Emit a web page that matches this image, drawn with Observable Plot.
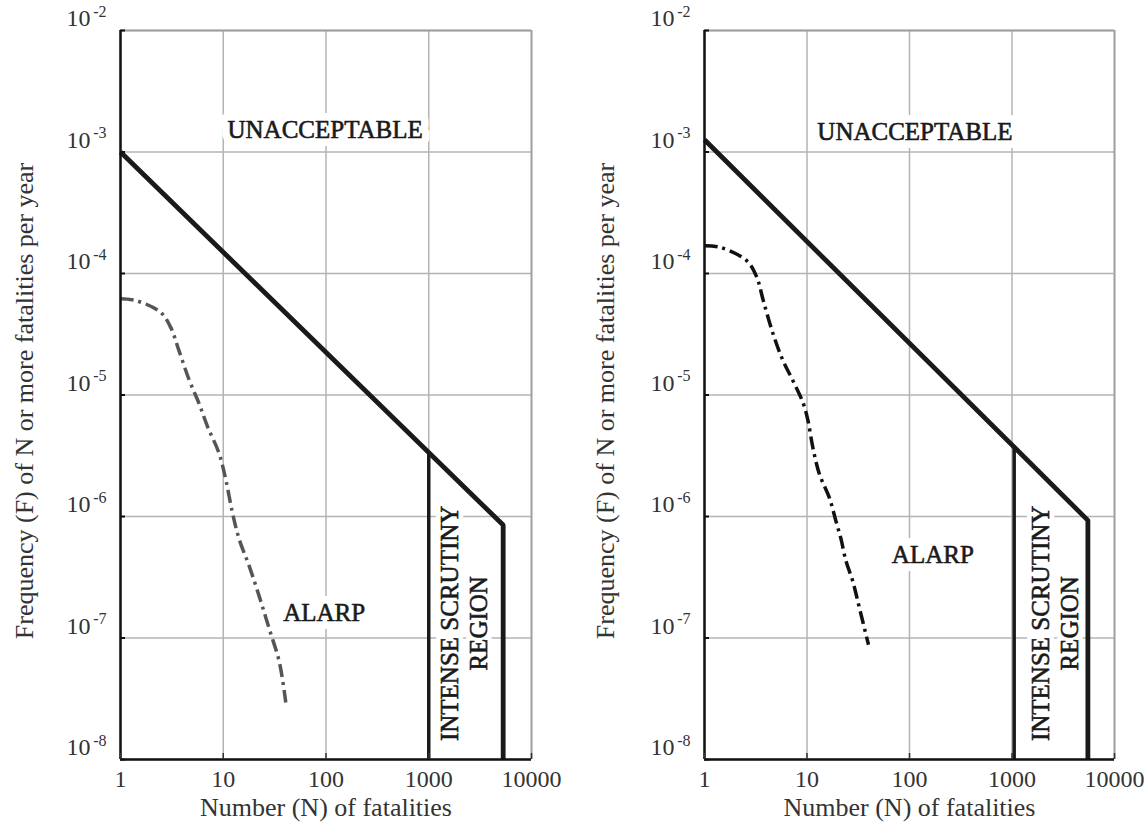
<!DOCTYPE html>
<html><head><meta charset="utf-8">
<script src="https://cdn.jsdelivr.net/npm/d3@7"></script>
<script src="https://cdn.jsdelivr.net/npm/@observablehq/plot@0.6"></script>
<style>
body{margin:0;background:#fff;}
#wrap{position:relative;width:1144px;height:822px;overflow:hidden;}
#left{position:absolute;left:0;top:0;}
#right{position:absolute;left:572px;top:0;}
</style></head><body>
<div id="wrap"><div id="left"></div><div id="right"></div></div>
<script>
// ---- shared axis content ----
const xTicks = [1, 10, 100, 1000, 10000];
const xTickLabels = ["1", "10", "100", "1000", "10000"];
const yTicks = [1e-2, 1e-3, 1e-4, 1e-5, 1e-6, 1e-7, 1e-8];
const yTickBase = "10";
const yTickExponents = ["-2", "-3", "-4", "-5", "-6", "-7", "-8"];
const xTitle = "Number (N) of fatalities";
const yTitle = "Frequency (F) of N or more fatalities per year";
const regionLabels = ["UNACCEPTABLE", "ALARP", "INTENSE SCRUTINY\nREGION"];

// ---- left panel ----
const leftCurveN = [1, 1.4, 2.45, 3.08, 3.72, 4.66, 5.82, 7.03, 9.12, 10.6, 12.3, 14.3, 17.9, 22.4, 28.2, 35.2, 40.6];
const leftCurveF = [6.2e-5, 6.0e-5, 4.8e-5, 3.6e-5, 2.3e-5, 1.33e-5, 8.5e-6, 5.5e-6, 3.3e-6, 2.0e-6, 1.07e-6, 6.5e-7, 3.9e-7, 2.2e-7, 1.17e-7, 6.3e-8, 2.95e-8];
const leftCriterionN = [1, 5300, 5300];
const leftCriterionF = [1e-3, 8.5e-7, 1e-8];
const leftScrutinyN = [1000, 1000];
const leftScrutinyF = [1e-8, 3.3e-6];
const leftLabelN = [98, 96, 2160];
const leftLabelF = [1.51e-3, 1.62e-7, 1.32e-7];

// ---- right panel ----
const rightCurveN = [1, 1.43, 2.59, 3.24, 3.75, 4.68, 5.86, 7.33, 9.14, 10.2, 11.4, 13.2, 16.6, 19.2, 21.4, 24.0, 27.9, 32.4, 39.8];
const rightCurveF = [1.69e-4, 1.64e-4, 1.27e-4, 9.3e-5, 5.96e-5, 3.16e-5, 1.9e-5, 1.3e-5, 8.65e-6, 6.2e-6, 3.7e-6, 2.24e-6, 1.41e-6, 9.1e-7, 6.6e-7, 4.3e-7, 2.95e-7, 1.78e-7, 8.8e-8];
const rightCriterionN = [1, 5500, 5500];
const rightCriterionF = [1.26e-3, 9.3e-7, 1e-8];
const rightScrutinyN = [1050, 1050];
const rightScrutinyF = [1e-8, 3.7e-6];
const rightLabelN = [113, 169, 2600];
const rightLabelF = [1.46e-3, 4.8e-7, 1.32e-7];

const zip = (N, F) => N.map((n, i) => ({n, f: F[i]}));

function panel(o) {
  const curve = zip(o.curveN, o.curveF);
  const crit = zip(o.critN, o.critF);
  const scr = zip(o.scrN, o.scrF);
  const labs = zip(o.labelN, o.labelF).map((d, i) => ({...d, t: regionLabels[i]}));
  const flat = labs.slice(0, 2);
  const rot = labs.slice(2);
  const ink = "#1a1a1a";
  const grid = "#b4b4b4";
  return Plot.plot({
    width: 572, height: 822,
    marginTop: 30, marginBottom: 63, marginLeft: o.marginLeft, marginRight: o.marginRight,
    x: {type: "log", domain: [1, 10000]},
    y: {type: "log", domain: [1e-8, 1e-2]},
    style: {fontFamily: "'Liberation Serif', 'Times New Roman', serif", background: "white", overflow: "visible"},
    marks: [
      Plot.gridX(xTicks, {stroke: grid, strokeOpacity: 1, strokeWidth: 1.5}),
      Plot.gridY(yTicks, {stroke: grid, strokeOpacity: 1, strokeWidth: 1.5}),
      Plot.ruleX([10000], {stroke: "#a0a0a0", strokeWidth: 1.8}),
      Plot.ruleY([1e-2], {stroke: "#a0a0a0", strokeWidth: 1.8}),
      // label halos
      Plot.text(flat, {x: "n", y: "f", text: "t", fontSize: 25, fill: "white", stroke: "white", strokeWidth: 16}),
      Plot.text(rot, {x: "n", y: "f", text: "t", rotate: -90, lineHeight: 1.16, fontSize: 25, fill: "white", stroke: "white", strokeWidth: 10}),
      // data
      Plot.line(curve, {x: "n", y: "f", stroke: o.curveColor, strokeWidth: 3.5, strokeDasharray: "13,5,3,5", curve: "catmull-rom", strokeLinecap: "butt"}),
      Plot.line(crit, {x: "n", y: "f", stroke: ink, strokeWidth: 4.8, strokeLinejoin: "miter", strokeLinecap: "butt"}),
      Plot.line(scr, {x: "n", y: "f", stroke: ink, strokeWidth: 3.5, strokeLinecap: "butt"}),
      // axes lines
      Plot.ruleX([1], {stroke: "#111", strokeWidth: 2.5}),
      Plot.ruleY([1e-8], {stroke: "#111", strokeWidth: 2.5}),
      Plot.axisY({ticks: yTicks, tickSize: -5, tickFormat: () => "", stroke: "#111", strokeWidth: 2, label: null}),
      Plot.axisX({ticks: xTicks, tickSize: -6, tickFormat: () => "", stroke: "#333", strokeWidth: 1.5, label: null}),
      Plot.axisX({ticks: xTicks, tickSize: 0, tickPadding: 10, tickFormat: d => xTickLabels[xTicks.indexOf(d)], fontSize: 24, fill: "#333", label: null}),
      // y tick labels 10^k
      Plot.text(yTicks, {y: d => d, frameAnchor: "left", text: () => yTickBase, textAnchor: "end", dx: -30, dy: -12, fontSize: 24, fill: "#333"}),
      Plot.text(yTicks, {y: d => d, frameAnchor: "left", text: (d, i) => yTickExponents[i], textAnchor: "end", dx: -14, dy: -19, fontSize: 16, fill: "#333"}),
      // titles
      Plot.text([xTitle], {frameAnchor: "bottom", text: d => d, textAnchor: "middle", lineAnchor: "middle", dy: 48, fontSize: 26, fill: "#333"}),
      Plot.text([yTitle], {frameAnchor: "left", text: d => d, rotate: -90, textAnchor: "middle", lineAnchor: "middle", dx: o.yTitleDx, dy: 6, fontSize: 26, fill: "#333"}),
      // region labels
      Plot.text(flat, {x: "n", y: "f", text: "t", fontSize: 25, fill: ink, stroke: ink, strokeWidth: 0.6}),
      Plot.text(rot, {x: "n", y: "f", text: "t", rotate: -90, lineHeight: 1.16, fontSize: 25, fill: ink, stroke: ink, strokeWidth: 0.6})
    ]
  });
}

document.getElementById("left").append(panel({
  curveN: leftCurveN, curveF: leftCurveF, curveColor: "#555",
  critN: leftCriterionN, critF: leftCriterionF, scrN: leftScrutinyN, scrF: leftScrutinyF,
  labelN: leftLabelN, labelF: leftLabelF, marginLeft: 120, marginRight: 41, yTitleDx: -96
}));
document.getElementById("right").append(panel({
  curveN: rightCurveN, curveF: rightCurveF, curveColor: "#111",
  critN: rightCriterionN, critF: rightCriterionF, scrN: rightScrutinyN, scrF: rightScrutinyF,
  labelN: rightLabelN, labelF: rightLabelF, marginLeft: 132, marginRight: 30, yTitleDx: -99
}));
</script>
</body></html>
